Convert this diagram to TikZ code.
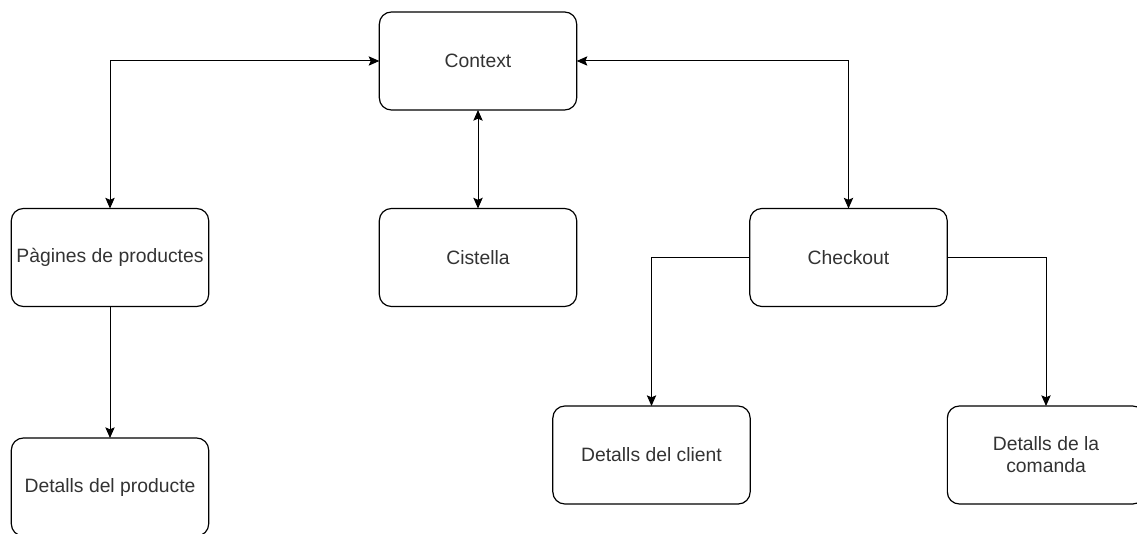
\documentclass[tikz,border=0pt]{standalone}
\usepackage{fontspec}
\setmainfont{Liberation Sans}
\usetikzlibrary{arrows.meta}
\begin{document}
\begin{tikzpicture}[x=0.75pt,y=-0.75pt,
  box/.style={draw=black, line width=0.9pt, rounded corners=9pt, minimum width=148pt, minimum height=73.5pt,
    inner sep=0pt, outer sep=0pt, align=center, font=\fontsize{14.5pt}{16.5pt}\selectfont, text=black!80},
  link/.style={line width=0.75pt, -{Stealth[length=8pt,width=7pt,inset=1.5pt]}},
  blink/.style={line width=0.75pt, {Stealth[length=8pt,width=7pt,inset=1.5pt]}-{Stealth[length=8pt,width=7pt,inset=1.5pt]}}]
\useasboundingbox (0,0) rectangle (1137,534);
\fill[white] (0,0) rectangle (1137,534);
\node[box] (ctx) at (478,61) {Context};
\node[box] (pag) at (110,257.5) {Pàgines de productes};
\node[box] (cis) at (478,257.5) {Cistella};
\node[box] (chk) at (848.5,257.5) {Checkout};
\node[box] (dprod) at (110,487) {Detalls del producte};
\node[box] (dcli) at (651.5,455) {Detalls del client};
\node[box] (dcom) at (1046,455) {Detalls de la\\comanda};
\draw[blink] (ctx.west) -| (pag.north);
\draw[blink] (ctx.east) -| (chk.north);
\draw[blink] (ctx.south) -- (cis.north);
\draw[link] (pag.south) -- (dprod.north);
\draw[link] (chk.west) -| (dcli.north);
\draw[link] (chk.east) -| (dcom.north);
\end{tikzpicture}
\end{document}
